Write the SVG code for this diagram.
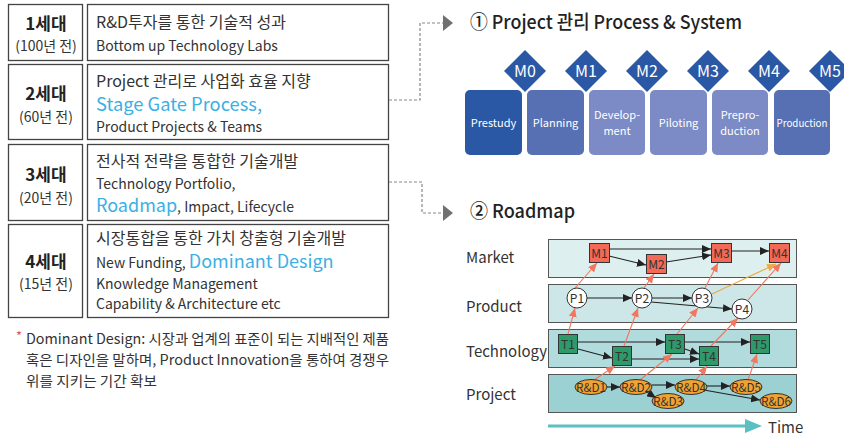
<svg xmlns="http://www.w3.org/2000/svg" width="844" height="437" viewBox="0 0 844 437">
<style>
text{font-family:"Noto Sans CJK KR","Noto Sans",sans-serif;fill:#333}
.box{fill:#fff;stroke:#444;stroke-width:1.3}
.gen{font-size:17px;font-weight:bold;text-anchor:middle;fill:#222}
.yr{font-size:14px;text-anchor:middle}
.kr{font-size:16px}
.en{font-size:14px}
.blue{fill:#3AB0E4}
.title{font-size:19px;font-weight:500;fill:#222}
.dash{fill:none;stroke:#888;stroke-width:1.2;stroke-dasharray:3 2}
.tri{fill:#707070}
.stage{stroke:none}
.st{font-size:11px;fill:#fff;text-anchor:middle}
.dia{fill:#2A58A5}
.dt{font-size:16px;fill:#fff;text-anchor:middle}
.lane{stroke:#555;stroke-width:1}
.lbl{font-size:15px}
.sq{stroke:#333;stroke-width:1}
.nt{font-size:12px;text-anchor:middle;fill:#333}
.blk{stroke:#222;stroke-width:1.1;fill:none;marker-end:url(#ab)}
.red{stroke:#F07760;stroke-width:1.1;fill:none;marker-end:url(#ar)}
.org{stroke:#F0A840;stroke-width:1.1;fill:none;marker-end:url(#ao)}
</style>
<defs>
<marker id="ab" markerUnits="userSpaceOnUse" markerWidth="9" markerHeight="8" refX="9" refY="4" orient="auto"><path d="M0,0 L9,4 L0,8 Z" fill="#222"/></marker>
<marker id="ar" markerUnits="userSpaceOnUse" markerWidth="9" markerHeight="8" refX="9" refY="4" orient="auto"><path d="M0,0 L9,4 L0,8 Z" fill="#F07760"/></marker>
<marker id="ao" markerUnits="userSpaceOnUse" markerWidth="9" markerHeight="8" refX="9" refY="4" orient="auto"><path d="M0,0 L9,4 L0,8 Z" fill="#F0A840"/></marker>
</defs>
<rect width="844" height="437" fill="#fff"/>

<g id="gen1">
<rect class="box" x="8.5" y="4.5" width="74" height="56"/>
<rect class="box" x="87.5" y="4.5" width="301" height="56"/>
<text class="gen" x="46" y="30">1세대</text>
<text class="yr" x="46" y="51">(100년 전)</text>
<text class="kr" x="96" y="28">R&amp;D투자를 통한 기술적 성과</text>
<text class="en" x="96" y="51">Bottom up Technology Labs</text>
</g>
<g id="gen2">
<rect class="box" x="8.5" y="64.5" width="74" height="75"/>
<rect class="box" x="87.5" y="64.5" width="301" height="75"/>
<text class="gen" x="46" y="100">2세대</text>
<text class="yr" x="46" y="122">(60년 전)</text>
<text class="kr" x="96" y="87">Project 관리로 사업화 효율 지향</text>
<text class="kr blue" x="96" y="111" style="font-size:18px" textLength="166" lengthAdjust="spacingAndGlyphs">Stage Gate Process,</text>
<text class="en" x="96" y="132">Product Projects &amp; Teams</text>
</g>
<g id="gen3">
<rect class="box" x="8.5" y="144.5" width="74" height="76"/>
<rect class="box" x="87.5" y="144.5" width="301" height="76"/>
<text class="gen" x="46" y="181">3세대</text>
<text class="yr" x="46" y="203">(20년 전)</text>
<text class="kr" x="96" y="167">전사적 전략을 통합한 기술개발</text>
<text class="en" x="96" y="189">Technology Portfolio,</text>
<text class="en" x="96" y="212"><tspan class="blue" style="font-size:18px">Roadmap</tspan>, Impact, Lifecycle</text>
</g>
<g id="gen4">
<rect class="box" x="8.5" y="224.5" width="74" height="93"/>
<rect class="box" x="87.5" y="224.5" width="301" height="93"/>
<text class="gen" x="46" y="268">4세대</text>
<text class="yr" x="46" y="289">(15년 전)</text>
<text class="kr" x="96" y="244">시장통합을 통한 가치 창출형 기술개발</text>
<text class="en" x="96" y="268">New Funding, <tspan class="blue" style="font-size:18px">Dominant Design</tspan></text>
<text class="en" x="96" y="289">Knowledge Management</text>
<text class="en" x="96" y="309">Capability &amp; Architecture etc</text>
</g>
<g id="footnote">
<text x="16" y="341" style="font-size:13px;fill:#E05555">*</text>
<text x="26" y="344" style="font-size:14px" textLength="363" lengthAdjust="spacingAndGlyphs">Dominant Design: 시장과 업계의 표준이 되는 지배적인 제품</text>
<text x="26" y="365" style="font-size:14px" textLength="363" lengthAdjust="spacingAndGlyphs">혹은 디자인을 말하며, Product Innovation을 통하여 경쟁우</text>
<text x="26" y="386" style="font-size:14px" textLength="131" lengthAdjust="spacingAndGlyphs">위를 지키는 기간 확보</text>
</g>

<g id="links-left">
<path class="dash" d="M389,100 H420 V23 H443"/>
<path class="tri" d="M443,15 L453,23 L443,31 Z"/>
<path class="dash" d="M389,182 H422 V213 H443"/>
<path class="tri" d="M443,205 L453,213 L443,221 Z"/>
</g>

<g id="title1"><text class="title" x="470" y="29" textLength="272" lengthAdjust="spacingAndGlyphs">① Project 관리 Process &amp; System</text></g>
<g id="title2"><text class="title" x="470" y="218" textLength="105" lengthAdjust="spacingAndGlyphs">② Roadmap</text></g>

<g id="stages">
<rect class="stage" x="465" y="90" width="57" height="65" rx="5" fill="#2A58A5"/>
<rect class="stage" x="527" y="90" width="57" height="65" rx="5" fill="#5670B3"/>
<rect class="stage" x="589" y="90" width="56" height="65" rx="5" fill="#7C8BC5"/>
<rect class="stage" x="650" y="90" width="57" height="65" rx="5" fill="#7C8BC5"/>
<rect class="stage" x="712" y="90" width="56" height="65" rx="5" fill="#7C8BC5"/>
<rect class="stage" x="774" y="90" width="56" height="65" rx="5" fill="#5670B3"/>
<text class="st" x="493.5" y="127">Prestudy</text>
<text class="st" x="555.5" y="127">Planning</text>
<text class="st" x="617" y="119">Develop-</text>
<text class="st" x="617" y="135">ment</text>
<text class="st" x="678.5" y="127">Piloting</text>
<text class="st" x="740" y="119">Prepro-</text>
<text class="st" x="740" y="135">duction</text>
<text class="st" x="802" y="127" textLength="51" lengthAdjust="spacingAndGlyphs">Production</text>
</g>
<g id="milestones">
<path class="dia" d="M525,50 L546,71 L525,92 L504,71 Z"/>
<path class="dia" d="M586,50 L607,71 L586,92 L565,71 Z"/>
<path class="dia" d="M647,50 L668,71 L647,92 L626,71 Z"/>
<path class="dia" d="M708,50 L729,71 L708,92 L687,71 Z"/>
<path class="dia" d="M769,50 L790,71 L769,92 L748,71 Z"/>
<path class="dia" d="M830,50 L851,71 L830,92 L809,71 Z"/>
<text class="dt" x="525" y="77">M0</text>
<text class="dt" x="586" y="77">M1</text>
<text class="dt" x="647" y="77">M2</text>
<text class="dt" x="708" y="77">M3</text>
<text class="dt" x="769" y="77">M4</text>
<text class="dt" x="830" y="77">M5</text>
</g>

<g id="lanes">
<rect class="lane" x="548.5" y="239.5" width="248" height="38" fill="#DDEFEF"/>
<rect class="lane" x="548.5" y="284.5" width="248" height="38" fill="#CDE6E7"/>
<rect class="lane" x="548.5" y="329.5" width="248" height="38" fill="#B2DBDD"/>
<rect class="lane" x="548.5" y="374.5" width="248" height="38" fill="#9CD1D4"/>
<text class="lbl" x="466" y="263">Market</text>
<text class="lbl" x="466" y="312">Product</text>
<text class="lbl" x="466" y="357">Technology</text>
<text class="lbl" x="466" y="400">Project</text>
</g>

<g id="connectors">
<path class="blk" d="M609,249 L711,249"/>
<path class="blk" d="M609,256 L646,265"/>
<path class="blk" d="M666,262 L711,255"/>
<path class="blk" d="M731,251 L769,251"/>
<path class="blk" d="M587,298 L632,298"/>
<path class="blk" d="M652,298 L692,298"/>
<path class="blk" d="M651,302 L732,309"/>
<path class="blk" d="M578,342 L665,342"/>
<path class="blk" d="M578,349 L612,358"/>
<path class="blk" d="M632,359 L699,359"/>
<path class="blk" d="M685,349 L699,354"/>
<path class="blk" d="M685,342 L750,342"/>
<path class="blk" d="M607,387 L620,387"/>
<path class="blk" d="M652,385 L675,385"/>
<path class="blk" d="M647,392 L656,398"/>
<path class="blk" d="M707,386 L730,386"/>
<path class="blk" d="M704,390 L760,400"/>
<path class="red" d="M575,288 L597,263"/>
<path class="red" d="M644,288 L654,274"/>
<path class="red" d="M705,288 L718,263"/>
<path class="red" d="M748,300 L781,263"/>
<path class="red" d="M568,334 L575,308"/>
<path class="red" d="M624,346 L638,308"/>
<path class="red" d="M677,334 L698,308"/>
<path class="red" d="M711,346 L738,318"/>
<path class="red" d="M594,380 L615,366"/>
<path class="red" d="M640,380 L672,354"/>
<path class="red" d="M696,380 L707,366"/>
<path class="red" d="M748,380 L757,354"/>
<path class="org" d="M712,294 L776,264"/>
</g>

<g id="market-nodes">
<rect class="sq" x="589.5" y="243.5" width="20" height="19" fill="#F26A55"/><text class="nt" x="599.5" y="257.5">M1</text>
<rect class="sq" x="646.5" y="254.5" width="20" height="19" fill="#F26A55"/><text class="nt" x="656.5" y="268.5">M2</text>
<rect class="sq" x="711.5" y="243.5" width="20" height="19" fill="#F26A55"/><text class="nt" x="721.5" y="257.5">M3</text>
<rect class="sq" x="769.5" y="243.5" width="20" height="19" fill="#F26A55"/><text class="nt" x="779.5" y="257.5">M4</text>
</g>
<g id="product-nodes">
<circle class="sq" cx="577" cy="298" r="10" fill="#fff"/><text class="nt" x="577" y="302.5">P1</text>
<circle class="sq" cx="642" cy="298" r="10" fill="#fff"/><text class="nt" x="642" y="302.5">P2</text>
<circle class="sq" cx="702" cy="298" r="10" fill="#fff"/><text class="nt" x="702" y="302.5">P3</text>
<circle class="sq" cx="742" cy="309" r="10" fill="#fff"/><text class="nt" x="742" y="313.5">P4</text>
</g>
<g id="tech-nodes">
<rect class="sq" x="558.5" y="334.5" width="19" height="19" fill="#2E9A6A"/><text class="nt" x="568" y="348.5">T1</text>
<rect class="sq" x="612.5" y="346.5" width="19" height="19" fill="#2E9A6A"/><text class="nt" x="622" y="360.5">T2</text>
<rect class="sq" x="665.5" y="334.5" width="19" height="19" fill="#2E9A6A"/><text class="nt" x="675" y="348.5">T3</text>
<rect class="sq" x="699.5" y="346.5" width="19" height="19" fill="#2E9A6A"/><text class="nt" x="709" y="360.5">T4</text>
<rect class="sq" x="750.5" y="334.5" width="19" height="19" fill="#2E9A6A"/><text class="nt" x="760" y="348.5">T5</text>
</g>
<g id="project-nodes">
<ellipse class="sq" cx="591" cy="387" rx="16" ry="7.5" fill="#F0A232"/><text class="nt" x="591" y="391.5" textLength="30" lengthAdjust="spacingAndGlyphs">R&amp;D1</text>
<ellipse class="sq" cx="636" cy="387" rx="16" ry="7.5" fill="#F0A232"/><text class="nt" x="636" y="391.5" textLength="30" lengthAdjust="spacingAndGlyphs">R&amp;D2</text>
<ellipse class="sq" cx="668" cy="401" rx="16" ry="7.5" fill="#F0A232"/><text class="nt" x="668" y="405.5" textLength="30" lengthAdjust="spacingAndGlyphs">R&amp;D3</text>
<ellipse class="sq" cx="691" cy="387" rx="16" ry="7.5" fill="#F0A232"/><text class="nt" x="691" y="391.5" textLength="30" lengthAdjust="spacingAndGlyphs">R&amp;D4</text>
<ellipse class="sq" cx="746" cy="387" rx="16" ry="7.5" fill="#F0A232"/><text class="nt" x="746" y="391.5" textLength="30" lengthAdjust="spacingAndGlyphs">R&amp;D5</text>
<ellipse class="sq" cx="776" cy="401" rx="16" ry="7.5" fill="#F0A232"/><text class="nt" x="776" y="405.5" textLength="30" lengthAdjust="spacingAndGlyphs">R&amp;D6</text>
</g>

<g id="time">
<line x1="548" y1="426" x2="746" y2="426" stroke="#5CBFC2" stroke-width="3"/>
<path d="M745,419 L762,426 L745,433 Z" fill="#5CBFC2"/>
<text class="lbl" x="768" y="433">Time</text>
</g>
</svg>
